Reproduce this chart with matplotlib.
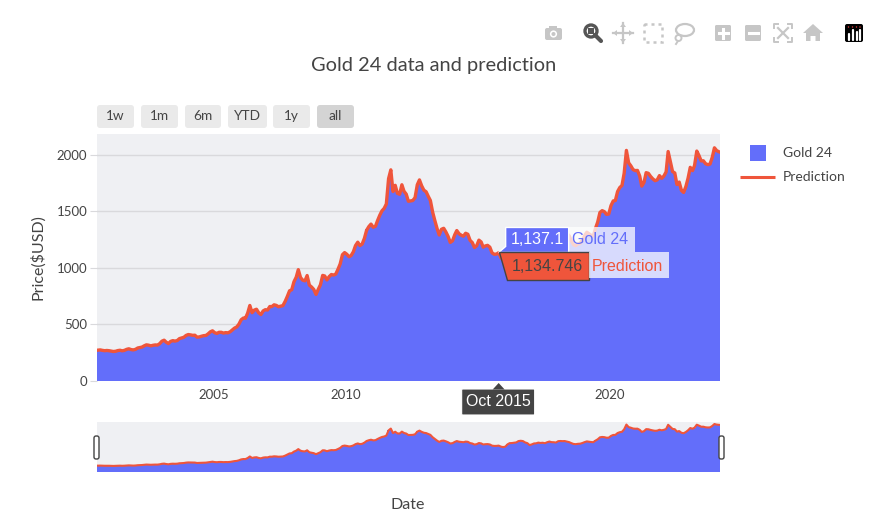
#Gold 24 price history with model prediction - static copy of the plotly view
import matplotlib
matplotlib.use("Agg")
import matplotlib.pyplot as plt
import matplotlib.dates as mdates
from matplotlib.patches import Rectangle, FancyBboxPatch, Polygon, Circle, Ellipse
import numpy as np
import pandas as pd

plt.rcParams['font.family'] = ['Lato', 'DejaVu Sans']

#Define datasets (monthly, Aug 2000 -> Feb 2024), USD per ounce
start_month = "2000-08-01"
gold_24 = [
    275, 273, 270, 266, 272,
    266, 262, 263, 261, 272, 270, 268, 273, 283, 283, 276, 276,
    282, 296, 294, 302, 314, 322, 314, 310, 319, 317, 319, 333,
    357, 359, 340, 329, 355, 356, 351, 360, 379, 379, 389, 407,
    414, 405, 406, 403, 384, 392, 398, 400, 405, 420, 439, 442,
    424, 423, 434, 429, 422, 431, 424, 438, 456, 470, 476, 510,
    549, 555, 557, 610, 676, 596, 633, 632, 598, 585, 627, 629,
    631, 665, 655, 679, 666, 655, 665, 665, 712, 754, 806, 803,
    889, 922, 990, 909, 888, 889, 939, 839, 829, 806, 760, 816,
    858, 943, 924, 890, 928, 945, 934, 949, 996, 1043, 1127, 1134,
    1118, 1095, 1113, 1148, 1205, 1232, 1193, 1215, 1270, 1342, 1370, 1391,
    1356, 1372, 1424, 1473, 1510, 1529, 1572, 1800, 1850, 1665, 1739, 1652,
    1656, 1743, 1673, 1650, 1585, 1596, 1594, 1626, 1744, 1767, 1722, 1684,
    1671, 1627, 1593, 1487, 1414, 1343, 1286, 1347, 1349, 1316, 1275, 1221,
    1244, 1300, 1336, 1299, 1288, 1279, 1311, 1296, 1239, 1222, 1176, 1200,
    1251, 1227, 1179, 1198, 1199, 1181, 1129, 1118, 1125, 1137.1, 1087, 1068,
    1096, 1200, 1246, 1242, 1260, 1276, 1337, 1341, 1326, 1267, 1236, 1152,
    1192, 1234, 1231, 1267, 1246, 1260, 1236, 1283, 1315, 1280, 1282, 1265,
    1331, 1331, 1325, 1334, 1303, 1282, 1238, 1202, 1198, 1215, 1220, 1250,
    1291, 1320, 1300, 1286, 1284, 1359, 1413, 1500, 1510, 1495, 1471, 1480,
    1560, 1597, 1592, 1683, 1715, 1732, 1847, 2020, 1921, 1900, 1866, 1858,
    1867, 1808, 1718, 1760, 1850, 1834, 1807, 1785, 1775, 1777, 1821, 1790,
    1817, 1856, 2000, 1937, 1848, 1837, 1733, 1764, 1681, 1664, 1726, 1798,
    1898, 1855, 1912, 2020, 1991, 1943, 1951, 1918, 1917, 1916, 1985, 2050,
    2035, 2025,
]
prediction = [
    273, 275, 271, 268, 270,
    268, 264, 261, 263, 269, 272, 267, 271, 280, 285, 278, 275,
    280, 292, 296, 300, 311, 320, 317, 311, 316, 319, 318, 330,
    352, 361, 344, 331, 350, 357, 353, 358, 375, 381, 387, 403,
    411, 408, 404, 405, 388, 390, 396, 401, 403, 417, 435, 444,
    427, 421, 431, 431, 424, 428, 426, 435, 452, 468, 478, 503,
    542, 557, 555, 601, 668, 604, 627, 635, 603, 588, 620, 631,
    628, 659, 658, 674, 669, 657, 662, 667, 704, 748, 798, 807,
    878, 918, 985, 915, 892, 886, 933, 848, 831, 810, 766, 810,
    851, 934, 929, 894, 923, 942, 937, 946, 989, 1036, 1117, 1136,
    1121, 1099, 1110, 1143, 1198, 1228, 1198, 1212, 1262, 1333, 1366, 1388,
    1360, 1369, 1418, 1466, 1505, 1527, 1566, 1790, 1868, 1676, 1731, 1660,
    1652, 1736, 1679, 1653, 1590, 1593, 1597, 1622, 1736, 1779, 1726, 1688,
    1674, 1632, 1597, 1495, 1421, 1350, 1292, 1342, 1351, 1319, 1279, 1226,
    1240, 1294, 1331, 1303, 1290, 1281, 1307, 1298, 1244, 1225, 1181, 1197,
    1246, 1230, 1184, 1195, 1200, 1184, 1134, 1121, 1123, 1134.746, 1091, 1072,
    1091, 1191, 1241, 1245, 1257, 1273, 1330, 1343, 1329, 1272, 1240, 1158,
    1187, 1228, 1233, 1263, 1249, 1258, 1239, 1279, 1310, 1284, 1280, 1268,
    1325, 1333, 1327, 1331, 1307, 1285, 1243, 1206, 1197, 1212, 1218, 1246,
    1285, 1316, 1303, 1289, 1282, 1351, 1406, 1491, 1507, 1498, 1474, 1477,
    1552, 1593, 1596, 1676, 1711, 1730, 1838, 2040, 1930, 1904, 1870, 1861,
    1863, 1813, 1724, 1756, 1843, 1837, 1810, 1788, 1772, 1779, 1817, 1793,
    1813, 1850, 2030, 1940, 1853, 1840, 1738, 1760, 1686, 1668, 1720, 1793,
    1890, 1861, 1906, 2034, 1995, 1947, 1948, 1922, 1914, 1919, 1979, 2063,
    2038, 2028,
]
y_ticks = [0, 500, 1000, 1500, 2000]
x_tick_years = [2005, 2010, 2015, 2020]
x_tick_labels = ["2005", "2010", "", "2020"] #2015 sits under the hover box
buttons = ["1w", "1m", "6m", "YTD", "1y", "all"]
hover_month = "2015-10"

blue = "#636efa"
red = "#EF553B"
bg = "#eff0f3"
txt = "#444444"

dates = pd.date_range(start_month, periods=len(gold_24), freq="MS") + pd.Timedelta(days=14)
x = mdates.date2num(dates)
x_lo = mdates.date2num(pd.Timestamp(start_month))
x_hi = mdates.date2num(pd.Timestamp(start_month) + pd.DateOffset(months=len(gold_24)))

fig = plt.figure(figsize=(8.75, 5.32), dpi=100)

#Main plot
ax = fig.add_axes([97/875, 1-381/532, 623/875, 247/532])
ax.set_facecolor(bg)
ax.bar(x, gold_24, width=31, color=blue, linewidth=0, zorder=2)
ax.plot(x, prediction, color=red, linewidth=2.4, zorder=3)
ax.set_xlim(x_lo, x_hi)
ax.set_ylim(0, 2185)
ax.set_yticks(y_ticks)
ax.set_xticks([mdates.date2num(pd.Timestamp(f"{yr}-01-01")) for yr in x_tick_years])
ax.set_xticklabels(x_tick_labels)
ax.grid(axis="y", color="#d9d9dc", linewidth=1, zorder=0)
ax.set_axisbelow(True)
for s in ax.spines.values():
    s.set_visible(False)
ax.tick_params(axis="y", length=5, color="#d9d9dc", labelsize=9.5, labelcolor=txt, pad=2)
ax.tick_params(axis="x", length=0, labelsize=9.5, labelcolor=txt, pad=6)
ax.set_ylabel("Price($USD)", fontsize=11.5, color=txt, labelpad=8)

#Range slider
sl = fig.add_axes([97/875, 1-472/532, 623/875, 50/532])
sl.set_facecolor(bg)
sl.bar(x, gold_24, width=31, color=blue, linewidth=0)
sl.plot(x, prediction, color=red, linewidth=1.5)
sl.set_xlim(x_lo, x_hi)
sl.set_ylim(0, 2150)
sl.set_xticks([])
sl.set_yticks([])
for s in sl.spines.values():
    s.set_visible(False)

#Overlay in pixel coordinates for the plotly furniture
ov = fig.add_axes([0, 0, 1, 1], zorder=10)
ov.set_xlim(0, 875)
ov.set_ylim(532, 0)
ov.axis("off")
ov.patch.set_alpha(0)

ov.text(434, 65, "Gold 24 data and prediction", fontsize=14.4, color=txt, ha="center", va="center")
ov.text(408, 505, "Date", fontsize=11.5, color=txt, ha="center", va="center")

#Range selector buttons
bx = [97, 141, 185, 228, 273, 317]
bw = [37, 37, 36, 39, 37, 37]
for i, b in enumerate(buttons):
    col = "#d4d4d4" if b == "all" else "#eaeaea"
    ov.add_patch(FancyBboxPatch((bx[i], 105), bw[i], 23, boxstyle="round,pad=0,rounding_size=3",
                                facecolor=col, edgecolor="none"))
    ov.text(bx[i] + bw[i]/2, 116.5, b, fontsize=9.8, color=txt, ha="center", va="center")

#Legend
ov.add_patch(Rectangle((750, 145), 16, 16, facecolor=blue, edgecolor="none"))
ov.text(783, 153, "Gold 24", fontsize=10, color=txt, va="center")
ov.plot([740, 775], [177, 177], color=red, linewidth=2.2, solid_capstyle="butt")
ov.text(783, 177, "Prediction", fontsize=10, color=txt, va="center")

#Slider handles
for hx in [94, 719]:
    ov.add_patch(FancyBboxPatch((hx, 436), 5, 23, boxstyle="round,pad=0,rounding_size=2",
                                facecolor="white", edgecolor="#444444", linewidth=1))

#Hover labels at the chosen month
fig.canvas.draw()
hi = list(dates.strftime("%Y-%m")).index(hover_month)
dx, dy = ax.transData.transform((x[hi], gold_24[hi]))
px, py = dx, 532 - dy
hfont = ["Liberation Sans", "DejaVu Sans"]
hsize = 11.5
#Gold 24 label
ov.add_patch(Polygon([(px, py), (px+7, py-6), (px+7, py-25), (px+70, py-25), (px+70, py), (px+7, py)],
                     closed=True, facecolor=blue, edgecolor="white", linewidth=1))
ov.add_patch(Rectangle((px+70, py-25), 66, 25, facecolor="white", alpha=0.75, edgecolor="none"))
ov.text(px+38.5, py-12.5, f"{gold_24[hi]:,}", family=hfont, fontsize=hsize, color="white", ha="center", va="center")
ov.text(px+73, py-12.5, "Gold 24", family=hfont, fontsize=hsize, color=blue, va="center")
#Prediction label
ov.add_patch(Polygon([(px, py), (px+8, py), (px+90, py), (px+90, py+28), (px+8, py+28)],
                     closed=True, facecolor=red, edgecolor="#444444", linewidth=1))
ov.add_patch(Rectangle((px+90, py), 80, 26, facecolor="white", alpha=0.75, edgecolor="none"))
ov.text(px+49, py+14, f"{prediction[hi]:,}", family=hfont, fontsize=hsize, color="#444444", ha="center", va="center")
ov.text(px+93, py+14, "Prediction", family=hfont, fontsize=hsize, color=red, va="center")
#x hover label
ov.add_patch(FancyBboxPatch((px-37, 389), 73, 26, boxstyle="round,pad=0,rounding_size=1",
                            facecolor="#444444", edgecolor="white", linewidth=0.8))
ov.add_patch(Polygon([(px-6, 389.5), (px+6, 389.5), (px, 383)], closed=True, facecolor="#444444", edgecolor="none"))
ov.text(px-0.5, 402, pd.Timestamp(hover_month).strftime("%b %Y"), family=hfont, fontsize=hsize,
        color="white", ha="center", va="center")

#Modebar
g = "#c6c6c6"
#camera
ov.add_patch(FancyBboxPatch((545, 28), 17, 12, boxstyle="round,pad=0,rounding_size=2", facecolor=g, edgecolor="none"))
ov.add_patch(Rectangle((549, 25.5), 8, 3, facecolor=g, edgecolor="none"))
ov.add_patch(Circle((553.5, 34), 3.6, facecolor="white", edgecolor="none"))
ov.add_patch(Circle((553.5, 34), 2.0, facecolor=g, edgecolor="none"))
#zoom (active)
ov.add_patch(Circle((591, 31), 6, facecolor="none", edgecolor="#555555", linewidth=2.4))
ov.add_patch(Rectangle((588, 28), 6, 6, facecolor="#555555", edgecolor="none"))
ov.plot([595, 601], [35, 41], color="#555555", linewidth=3, solid_capstyle="round")
#pan
ov.plot([613, 633], [33, 33], color=g, linewidth=1.6)
ov.plot([623, 623], [23, 43], color=g, linewidth=1.6)
for tri in [[(613, 33), (617, 30), (617, 36)], [(633, 33), (629, 30), (629, 36)],
            [(623, 23), (620, 27), (626, 27)], [(623, 43), (620, 39), (626, 39)]]:
    ov.add_patch(Polygon(tri, closed=True, facecolor=g, edgecolor="none"))
#box select
ov.add_patch(Rectangle((644, 24), 18, 18, facecolor="none", edgecolor=g, linewidth=1.8, linestyle=(0, (1.2, 1.6))))
#lasso
ov.add_patch(Ellipse((685, 30), 18, 12, facecolor="none", edgecolor=g, linewidth=1.6))
ov.add_patch(Circle((678.5, 38), 3, facecolor="none", edgecolor=g, linewidth=1.4))
ov.plot([678, 676], [41, 44], color=g, linewidth=1.4)
#zoom in / zoom out
for cx, plus in [(723, True), (753, False)]:
    ov.add_patch(FancyBboxPatch((cx-8, 25), 16, 16, boxstyle="round,pad=0,rounding_size=1.5", facecolor=g, edgecolor="none"))
    ov.plot([cx-4.5, cx+4.5], [33, 33], color="white", linewidth=2.2)
    if plus:
        ov.plot([cx, cx], [28.5, 37.5], color="white", linewidth=2.2)
#autoscale
for sx in [-1, 1]:
    for sy in [-1, 1]:
        ov.plot([783+sx*9, 783+sx*9, 783+sx*5], [33+sy*5, 33+sy*9, 33+sy*9], color=g, linewidth=1.4)
ov.plot([778, 788], [28, 38], color=g, linewidth=1.6)
ov.plot([778, 788], [38, 28], color=g, linewidth=1.6)
#home
ov.add_patch(Polygon([(803, 33), (813, 24), (823, 33), (820, 33), (820, 41), (815.5, 41), (815.5, 36),
                      (810.5, 36), (810.5, 41), (806, 41), (806, 33)], closed=True, facecolor=g, edgecolor="none"))
#plotly logo
ov.add_patch(FancyBboxPatch((845, 24), 18, 18, boxstyle="round,pad=0,rounding_size=2", facecolor="black", edgecolor="none"))
for lx, top in [(848.5, 34), (852.5, 30), (856.5, 32), (860, 30)]:
    ov.plot([lx, lx], [top, 39.5], color="white", linewidth=1.6, solid_capstyle="round")
for lx in [848.5, 852.5, 856.5, 860]:
    ov.add_patch(Circle((lx, 27), 0.7, facecolor="#e83e3e", edgecolor="none"))

fig.savefig("out.png", dpi=100)
